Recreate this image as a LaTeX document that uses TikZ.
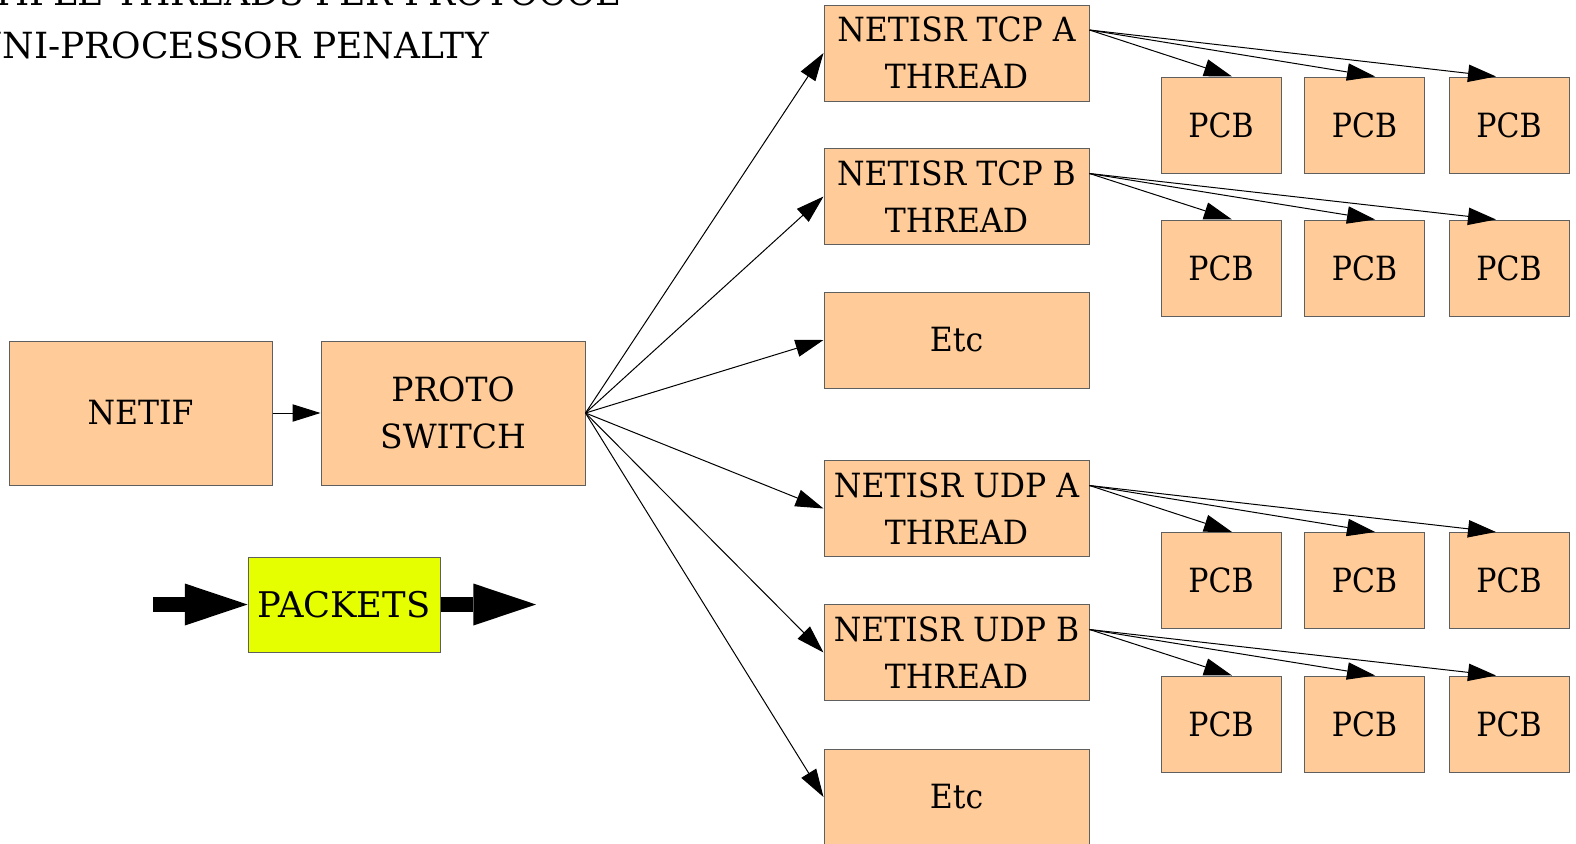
\documentclass[tikz,border=0pt]{standalone}
\usepackage{fontspec}
\setmainfont{DejaVu Serif}
\newfontfamily\boxfont[FakeStretch=0.945]{DejaVu Serif}
\newfontfamily\pcbfont[FakeStretch=0.9]{DejaVu Serif}
\newfontfamily\switchfont[FakeStretch=0.99]{DejaVu Serif}
\usetikzlibrary{arrows.meta}
\definecolor{peach}{HTML}{FFCC99}
\definecolor{lemon}{HTML}{E6FF00}
\definecolor{rim}{HTML}{5F5F5F}

\begin{document}
\begin{tikzpicture}[x=0.75pt,y=-0.75pt,
  box/.style={draw=rim, line width=0.75pt, fill=peach, inner sep=0pt, align=center,
              font=\boxfont\fontsize{25}{35.25}\selectfont},
  threadbox/.style={box, minimum width=198.75pt, minimum height=72pt},
  bigbox/.style={box, minimum width=197.25pt, minimum height=108pt},
  pcbbox/.style={box, minimum width=90pt, minimum height=72pt,
                 font=\pcbfont\fontsize{25}{35.25}\selectfont},
  link/.style={line width=0.75pt, -{Triangle[length=21pt,width=13pt]}},
  fat/.style={line width=11.25pt, -{Triangle[length=47pt,width=31.5pt,line width=0pt]}},
  heading/.style={anchor=base east, inner sep=0pt, font=\fontsize{27}{32}\selectfont}
]
\useasboundingbox (0,0) rectangle (1576,843);
\clip (0,0) rectangle (1576,843);

% heading
\node[heading] (head1) at (620,5) {MULTIPLE THREADS PER PROTOCOL};
\node[heading] (head2) at (489,58) {UNI-PROCESSOR PENALTY};

% input stage
\node[bigbox] (netif) at (140.5,413) {NETIF};
\node[bigbox, minimum width=198pt, font=\switchfont\fontsize{25}{35.25}\selectfont]
  (proto) at (453,413) {PROTO\\SWITCH};

% packet legend
\node[box, fill=lemon, minimum width=144pt, minimum height=71.25pt,
      font=\fontsize{26.5}{32}\selectfont] (packets) at (344,604.5) {PACKETS};
\coordinate (pin) at (153,604.5);
\coordinate (pout) at (536,604.5);

% netisr threads
\node[threadbox] (tcpa) at (956.5,53)    {NETISR TCP A\\THREAD};
\node[threadbox] (tcpb) at (956.5,196.5) {NETISR TCP B\\THREAD};
\node[threadbox] (etca) at (956.5,340)   {Etc};
\node[threadbox] (udpa) at (956.5,508.5) {NETISR UDP A\\THREAD};
\node[threadbox] (udpb) at (956.5,652.5) {NETISR UDP B\\THREAD};
\node[threadbox] (etcb) at (956.5,797)   {Etc};

% protocol control blocks
\foreach \t/\y in {tcpa/125, tcpb/268, udpa/580.5, udpb/724} {
  \node[pcbbox] (\t-1) at (1221,\y)   {PCB};
  \node[pcbbox] (\t-2) at (1364.5,\y) {PCB};
  \node[pcbbox] (\t-3) at (1509,\y)   {PCB};
}

% connectors
\draw[link] (netif) -- (proto);
\foreach \t in {tcpa,tcpb,etca,udpa,udpb,etcb}
  \draw[link] (proto.east) -- (\t.west);
\foreach \t in {tcpa,tcpb,udpa,udpb} {
  \draw[link] ([yshift=17.25pt]\t.east) -- ([xshift=8.25pt]\t-1.north);
  \draw[link] ([yshift=17.25pt]\t.east) -- ([xshift=7.9pt]\t-2.north);
  \draw[link] ([yshift=17.25pt]\t.east) -- ([xshift=-9.75pt]\t-3.north);
}

% packet flow arrows
\draw[fat] (pin) -- (packets.west);
\draw[fat] (packets.east) -- (pout);
\end{tikzpicture}
\end{document}
